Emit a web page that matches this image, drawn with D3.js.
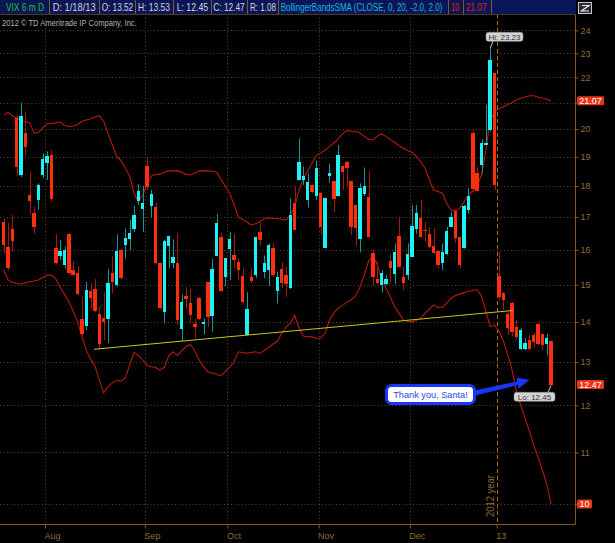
<!DOCTYPE html>
<html><head><meta charset="utf-8">
<script src="https://cdn.jsdelivr.net/npm/d3@7"></script>
<style>html,body{margin:0;padding:0;background:#000;overflow:hidden}svg{display:block}</style>
</head><body><svg id="c" width="615" height="543"></svg>
<script>
// ---------- DATA ----------
const dates = [
 "7/18","7/19","7/20","7/23","7/24","7/25","7/26","7/27","7/30","7/31",
 "8/1","8/2","8/3","8/6","8/7","8/8","8/9","8/10","8/13","8/14","8/15","8/16","8/17","8/20","8/21","8/22","8/23","8/24","8/27","8/28","8/29","8/30","8/31",
 "9/4","9/5","9/6","9/7","9/10","9/11","9/12","9/13","9/14","9/17","9/18","9/19","9/20","9/21","9/24","9/25","9/26","9/27","9/28",
 "10/1","10/2","10/3","10/4","10/5","10/8","10/9","10/10","10/11","10/12","10/15","10/16","10/17","10/18","10/19","10/22","10/23","10/24","10/25","10/26","10/31",
 "11/1","11/2","11/5","11/6","11/7","11/8","11/9","11/12","11/13","11/14","11/15","11/16","11/19","11/20","11/21","11/23","11/26","11/27","11/28","11/29","11/30",
 "12/3","12/4","12/5","12/6","12/7","12/10","12/11","12/12","12/13","12/14","12/17","12/18","12/19","12/20","12/21","12/24","12/26","12/27","12/28","12/31",
 "1/2","1/3","1/4","1/7","1/8","1/9","1/10","1/11","1/14","1/15","1/16","1/17","1/18"];
const open = [
 16.83,16.09,16.64,20.40,18.37,19.84,17.70,17.11,17.54,18.37,
 18.80,19.07,16.06,15.82,15.55,16.47,15.40,15.34,14.09,13.90,
 14.82,14.88,14.22,14.11,14.07,15.34,14.99,15.99,16.13,16.32,
 16.62,17.51,17.25,18.68,17.35,17.31,15.60,14.27,16.11,15.60,
 15.60,13.81,14.69,14.49,13.95,14.64,13.94,15.06,14.16,15.82,
 16.39,15.22,16.01,15.85,15.63,15.24,13.67,15.20,15.27,16.52,
 15.35,15.41,16.04,14.83,15.44,15.27,14.90,17.44,18.20,18.20,
 17.54,18.04,17.67,17.78,16.06,18.32,18.17,17.67,18.68,18.82,
 18.17,17.38,16.32,17.73,17.65,15.89,15.15,14.99,15.02,15.67,
 15.30,16.41,15.22,15.27,15.80,16.64,16.97,16.61,16.46,16.12,
 15.96,15.61,15.86,16.70,17.19,16.39,16.04,17.22,19.86,18.45,
 18.72,19.42,19.96,22.17,15.24,14.78,14.22,14.51,13.88,13.33,
 13.33,13.54,13.67,13.96,13.69,13.45,13.52];
const high = [
 16.95,16.81,17.06,20.53,21.00,20.66,18.48,17.32,18.09,19.12,
 19.19,19.24,16.47,16.29,16.09,16.50,15.68,15.52,14.67,15.08,
 15.04,15.16,14.40,14.79,15.44,15.81,16.46,16.02,16.64,16.92,
 17.35,18.06,18.01,18.98,17.87,17.45,15.62,16.29,16.42,16.31,
 16.50,14.72,14.93,14.88,14.07,14.66,14.09,15.08,15.73,17.09,
 16.50,15.76,16.54,16.48,15.75,15.46,14.79,15.46,16.39,16.80,
 15.83,16.19,16.21,15.37,15.64,15.51,17.59,17.98,19.66,18.66,
 18.43,18.06,18.86,17.80,17.62,18.76,18.19,19.42,18.70,18.85,
 18.19,17.40,18.09,18.63,18.50,15.99,15.68,15.41,15.27,15.87,
 16.19,17.01,15.51,16.19,17.38,17.38,17.54,16.85,16.68,16.65,
 15.98,16.19,16.70,17.17,17.19,16.40,17.38,17.93,19.96,18.66,
 19.62,20.92,23.23,22.20,15.94,14.80,14.25,14.53,14.05,13.84,
 13.59,13.67,13.72,13.97,13.70,13.70,13.53];
const low = [
 15.90,15.40,15.96,18.34,18.30,19.01,17.09,16.48,17.22,18.26,
 18.20,17.50,15.58,15.70,15.46,15.27,15.25,14.70,13.66,13.79,
 14.35,14.25,13.29,13.54,13.46,14.76,14.95,15.15,15.75,15.99,
 16.54,17.38,16.54,17.87,16.98,15.58,14.33,13.97,15.46,15.46,
 13.92,13.52,14.35,13.97,13.58,14.05,13.68,13.88,13.75,15.80,
 14.80,14.96,15.13,15.46,15.13,14.49,13.65,15.04,15.19,16.12,
 15.18,14.96,15.22,14.49,14.90,14.67,14.88,16.59,18.18,18.03,
 17.30,17.77,17.54,16.44,16.04,18.11,17.16,17.65,17.87,17.96,
 16.44,16.11,15.92,17.67,16.37,14.99,15.00,14.78,14.99,15.05,
 15.01,15.48,14.85,15.13,15.78,16.48,16.37,16.24,16.05,15.87,
 15.46,15.41,15.84,16.68,16.20,15.46,16.03,17.11,17.78,17.82,
 18.43,19.40,19.90,17.87,14.58,14.31,13.67,13.63,13.54,13.29,
 13.29,13.29,13.34,13.40,13.29,13.17,12.45];
const close = [
 16.13,15.46,16.27,18.63,20.49,19.34,17.51,16.69,18.04,18.93,
 19.01,17.56,15.62,15.95,15.99,15.32,15.27,14.74,13.70,14.85,
 14.63,14.29,13.44,14.01,15.04,15.08,15.97,15.18,16.36,16.49,
 17.06,17.85,17.45,17.98,17.74,15.60,14.36,16.27,16.41,15.80,
 14.05,14.52,14.60,14.18,13.88,14.07,14.00,14.14,15.44,16.82,
 14.83,15.75,16.32,15.70,15.41,14.53,14.34,15.10,16.38,16.29,
 15.62,16.14,15.27,15.22,15.05,15.02,17.07,16.61,18.83,18.34,
 18.14,17.81,18.62,16.68,17.59,18.43,17.56,19.08,18.48,18.60,
 16.68,16.65,17.93,18.01,16.39,15.22,15.05,15.34,15.15,15.48,
 15.94,15.51,15.05,15.86,16.72,17.13,16.39,16.57,16.09,15.89,
 15.55,15.94,16.56,17.01,16.34,15.56,17.36,17.68,17.89,17.84,
 19.48,19.48,22.72,18.04,14.67,14.58,13.84,13.74,13.62,13.79,
 13.47,13.33,13.50,13.45,13.42,13.58,12.47];
const upperBand = [
 20.53,20.62,20.49,20.42,20.32,20.27,20.23,19.85,19.87,20.04,
 20.19,20.21,20.23,20.26,20.13,20.10,20.11,20.17,20.28,20.34,
 20.38,20.45,20.49,20.30,19.85,19.42,19.01,18.87,18.60,18.34,
 17.77,17.48,17.71,18.04,18.34,18.39,18.40,18.47,18.51,18.51,
 18.52,18.46,18.40,18.37,18.44,18.51,18.52,18.51,18.50,18.47,
 18.23,18.00,17.77,17.41,16.99,16.92,16.84,16.75,16.79,16.85,
 16.95,16.97,16.96,16.95,16.93,16.90,17.06,17.32,17.87,18.27,
 18.51,18.78,19.05,19.13,19.24,19.36,19.49,19.64,19.82,19.94,
 19.92,19.91,19.85,19.74,19.62,19.60,19.74,19.82,19.73,19.62,
 19.51,19.40,19.30,19.22,19.15,19.01,18.82,18.61,18.20,17.87,
 17.82,17.76,17.43,17.22,17.20,17.28,17.48,17.70,17.85,18.00,
 18.37,19.24,20.34,20.64,20.76,20.83,20.93,21.00,21.10,21.16,
 21.22,21.27,21.27,21.22,21.18,21.14,21.07];
const lowerBand = [
 15.41,15.13,15.06,15.03,15.02,15.05,15.08,15.10,15.13,15.20,
 15.26,15.27,15.16,14.93,14.74,14.53,14.28,14.00,13.64,13.29,
 13.07,12.91,12.58,12.28,12.41,12.51,12.57,12.55,12.63,12.93,
 13.23,13.16,13.05,12.92,12.89,12.87,12.81,12.88,13.15,13.25,
 13.16,13.27,13.38,13.43,13.27,13.05,12.89,12.77,12.74,12.71,
 12.67,12.77,12.88,13.00,13.25,13.23,13.21,13.23,13.25,13.21,
 13.28,13.36,13.44,13.51,13.71,13.87,13.97,14.17,13.84,13.64,
 13.62,13.62,13.58,13.59,13.71,14.05,14.23,14.36,14.43,14.53,
 14.58,14.69,14.93,15.27,15.67,15.81,15.56,15.17,14.91,14.66,
 14.40,14.23,14.05,14.02,14.01,14.04,14.10,14.23,14.34,14.45,
 14.38,14.39,14.50,14.63,14.70,14.74,14.78,14.81,14.84,14.86,
 14.69,14.28,13.88,13.92,13.77,13.53,13.19,12.83,12.33,12.01,
 11.72,11.45,11.15,10.91,10.65,10.38,10.00];
const yTicks = [10,11,12,13,14,15,16,17,18,19,20,21,22,23,24];
const monthLabels = ["Aug","Sep","Oct","Nov","Dec","13"];
const monthStart = [10,33,52,73,94,114];
const trendLine = [{i:20.8, v:13.31},{i:117.2, v:14.30}];
const headerFields = [
 {t:"VIX 6 m D", c:"#22c42a"},{t:"D: 1/18/13", c:"#d6d6d6"},{t:"O: 13.52", c:"#d6d6d6"},
 {t:"H: 13.53", c:"#d6d6d6"},{t:"L: 12.45", c:"#d6d6d6"},{t:"C: 12.47", c:"#d6d6d6"},
 {t:"R: 1.08", c:"#d6d6d6"},{t:"BollingerBandsSMA (CLOSE, 0, 20, -2.0, 2.0)", c:"#1fb4dc"},
 {t:"10", c:"#e0200e"},{t:"21.07", c:"#e0200e"}];
const hiValue = 23.23, loValue = 12.45;

// ---------- LAYOUT ----------
const headerX = [6,52.7,101.7,138,176.7,213.3,250,280.7,451,465.7];
const headerW = [38,43,31.5,32,31.5,31.5,26,162,8,21];
const sepX = [49.3,99,135,172.7,210.7,247.3,278.3,447.7,462.7,490.7];
const axisX = 575, axisY = 524;
const SANS = "'Liberation Sans',Arial,sans-serif";
const GRID = "#5e4618", AXIS = "#7c5c24", LABEL = "#8f6e32";

const svg = d3.select("#c");
svg.append("rect").attr("width",615).attr("height",543).attr("fill","#000");

// text squeezed horizontally to a target width (keeps glyph height)
function fitText(parent, tx, ty, txt, w, opts){
  const gg = parent.append("g");
  const t = gg.append("text").attr("x",0).attr("y",0).attr("font-family",SANS)
    .attr("font-size",opts.size).attr("fill",opts.fill).text(txt);
  const nat = t.node().getComputedTextLength();
  const sx = Math.min(1.15, w / nat);
  gg.attr("transform",`translate(${tx},${ty}) ${opts.rot?`rotate(${opts.rot}) `:""}scale(${sx},1)`);
  return gg;
}

const n = open.length;
const x = d3.scaleLinear().domain([0, n-1]).range([3.7, 551]);
const y = d3.scaleLog().domain([10, 24]).range([504, 30.4]);

// horizontal gridlines
svg.append("g").selectAll("line").data(yTicks).join("line")
  .attr("x1",0).attr("x2",axisX).attr("y1",d=>Math.round(y(d))+0.5).attr("y2",d=>Math.round(y(d))+0.5)
  .attr("stroke",GRID).attr("stroke-dasharray","1,2.5");
// vertical month gridlines
svg.append("g").selectAll("line").data(monthStart.slice(0,5)).join("line")
  .attr("x1",d=>Math.round(x(d-0.5))+0.5).attr("x2",d=>Math.round(x(d-0.5))+0.5)
  .attr("y1",14).attr("y2",axisY).attr("stroke",GRID).attr("stroke-dasharray","1,2.5");
// year line
const yearX = Math.round(x(monthStart[5]-0.5))+0.5;
svg.append("line").attr("x1",yearX).attr("x2",yearX).attr("y1",14).attr("y2",axisY)
  .attr("stroke","#a8701e").attr("stroke-dasharray","4,3");
fitText(svg, yearX-3.5, 517, "2012 year", 42, {size:10, fill:LABEL, rot:-90});

// Bollinger bands
const bandLine = arr => d3.line().x((d,i)=>x(i)).y(d=>y(d))(arr);
svg.append("path").attr("d",bandLine(upperBand)).attr("fill","none").attr("stroke","#b81a08").attr("stroke-width",1.1);
svg.append("path").attr("d",bandLine(lowerBand)).attr("fill","none").attr("stroke","#b81a08").attr("stroke-width",1.1);

// candles
const idx = d3.range(n);
const up = i => close[i] >= open[i];
const g = svg.append("g");
g.selectAll("line").data(idx).join("line")
  .attr("x1",i=>Math.round(x(i))+0.5).attr("x2",i=>Math.round(x(i))+0.5)
  .attr("y1",i=>y(high[i])).attr("y2",i=>y(low[i]))
  .attr("stroke",i=>up(i)?"#0a9c9c":"#a01c0a").attr("stroke-width",1);
g.selectAll("rect").data(idx).join("rect")
  .attr("x",i=>Math.round(x(i)-1.7))
  .attr("width",i=>Math.round(x(i)+1.7)-Math.round(x(i)-1.7))
  .attr("y",i=>y(Math.max(open[i],close[i])))
  .attr("height",i=>Math.max(1.2, y(Math.min(open[i],close[i]))-y(Math.max(open[i],close[i]))))
  .attr("fill",i=>up(i)?"#1ff2f2":"#ff2e0e")
  .attr("shape-rendering","crispEdges");

// trend line
svg.append("line").attr("x1",x(trendLine[0].i)).attr("y1",y(trendLine[0].v))
  .attr("x2",x(trendLine[1].i)).attr("y2",y(trendLine[1].v))
  .attr("stroke","#c9c61e").attr("stroke-width",1.1);

// axes
const valueTags = [{v:upperBand[n-1], t:"21.07"},{v:close[n-1], t:"12.47"},{v:lowerBand[n-1], t:"10"}];
const hiddenTicks = yTicks.filter(v => valueTags.some(d => Math.abs(y(d.v)-y(v)) < 9));
svg.append("line").attr("x1",axisX+0.5).attr("x2",axisX+0.5).attr("y1",14).attr("y2",axisY+0.5).attr("stroke",AXIS);
svg.append("line").attr("x1",0).attr("x2",axisX+0.5).attr("y1",axisY+0.5).attr("y2",axisY+0.5).attr("stroke",AXIS);
const ya = svg.append("g").attr("transform",`translate(${axisX+0.5},0)`)
  .call(d3.axisRight(y).tickValues(yTicks).tickFormat(d=> hiddenTicks.includes(d) ? "" : d3.format("d")(d)).tickSize(3).tickPadding(2));
ya.select(".domain").remove();
ya.selectAll("line").attr("stroke",AXIS);
ya.selectAll("text").attr("fill",LABEL).attr("font-family",SANS).attr("font-size",9);
const xa = svg.append("g").attr("transform",`translate(0,${axisY+0.5})`)
  .call(d3.axisBottom(x).tickValues(monthStart.map(d=>d-0.5)).tickFormat((d,k)=>monthLabels[k]).tickSize(4).tickPadding(4));
xa.select(".domain").remove();
xa.selectAll("line").attr("stroke",AXIS);
xa.selectAll("text").attr("fill",LABEL).attr("font-family",SANS).attr("font-size",9).attr("text-anchor","start").attr("dx",-1);

// right value labels
const tg = svg.append("g");
valueTags.forEach(d=>{
  const w = d.t.length>2 ? 27 : 15;
  tg.append("rect").attr("x",577).attr("y",y(d.v)-4.5).attr("width",w).attr("height",9).attr("rx",1.5).attr("fill","#ea3418");
  tg.append("text").attr("x",577+w/2).attr("y",y(d.v)+3.3).attr("text-anchor","middle")
    .attr("font-family",SANS).attr("font-size",9).attr("fill","#fff").text(d.t);
});

// Hi / Lo bubbles
const hiI = high.indexOf(hiValue), loI = low.indexOf(loValue);
svg.append("line").attr("x1",x(hiI)).attr("y1",y(hiValue)).attr("x2",x(hiI)+3).attr("y2",41).attr("stroke","#c8c8c8");
svg.append("rect").attr("x",486).attr("y",32.3).attr("width",37).attr("height",9).attr("rx",2.5).attr("fill","#d4d4d4").attr("stroke","#8a8a8a").attr("stroke-width",0.6);
svg.append("text").attr("x",504.5).attr("y",39.8).attr("text-anchor","middle").attr("font-family",SANS).attr("font-size",8).attr("fill","#333").text("Hi: "+hiValue.toFixed(2));
svg.append("line").attr("x1",x(loI)).attr("y1",y(loValue)).attr("x2",x(loI)-3).attr("y2",392.5).attr("stroke","#c8c8c8");
svg.append("rect").attr("x",514).attr("y",392.3).attr("width",41).attr("height",9).attr("rx",2.5).attr("fill","#d4d4d4").attr("stroke","#8a8a8a").attr("stroke-width",0.6);
svg.append("text").attr("x",534.5).attr("y",399.8).attr("text-anchor","middle").attr("font-family",SANS).attr("font-size",8).attr("fill","#333").text("Lo: "+loValue.toFixed(2));

// Santa callout
const BLUE = "#1836ff";
svg.append("path").attr("d","M470,391.5 L517,381.5 L516.5,377.5 L529.5,380 L518.5,388.5 L518,385 L471,396.5 Z").attr("fill",BLUE);
svg.append("rect").attr("x",386.5).attr("y",385.5).attr("width",88).attr("height",18).attr("rx",5).attr("fill","#fff").attr("stroke",BLUE).attr("stroke-width",3);
svg.append("text").attr("x",430.5).attr("y",397.8).attr("text-anchor","middle").attr("font-family",SANS).attr("font-size",9.2).attr("fill","#2a44e8").text("Thank you, Santa!");

// header
svg.append("rect").attr("x",0).attr("y",0).attr("width",576).attr("height",14).attr("fill","#0b1658");
svg.append("line").attr("x1",0).attr("x2",576).attr("y1",14.5).attr("y2",14.5).attr("stroke","#4a3a1c");
svg.append("g").selectAll("line").data(sepX).join("line")
  .attr("x1",d=>Math.round(d)+0.5).attr("x2",d=>Math.round(d)+0.5).attr("y1",0).attr("y2",14).attr("stroke","#7c5e2a");
const hg = svg.append("g");
headerFields.forEach((d,k)=> fitText(hg, headerX[k], 10.5, d.t, headerW[k], {size:10, fill:d.c}));
// icon
svg.append("rect").attr("x",578.5).attr("y",2.5).attr("width",13).attr("height",11).attr("fill","#2a2e3a").attr("stroke","#c8c8c8");
svg.append("path").attr("d","M582,5.5 H589 L581.5,11 H589").attr("fill","none").attr("stroke","#eee").attr("stroke-width",1.2);
// copyright
fitText(svg, 2, 26, "2012 \u00A9 TD Ameritrade IP Company, Inc.", 135, {size:9.5, fill:"#b4b4b4"});
</script></body></html>
